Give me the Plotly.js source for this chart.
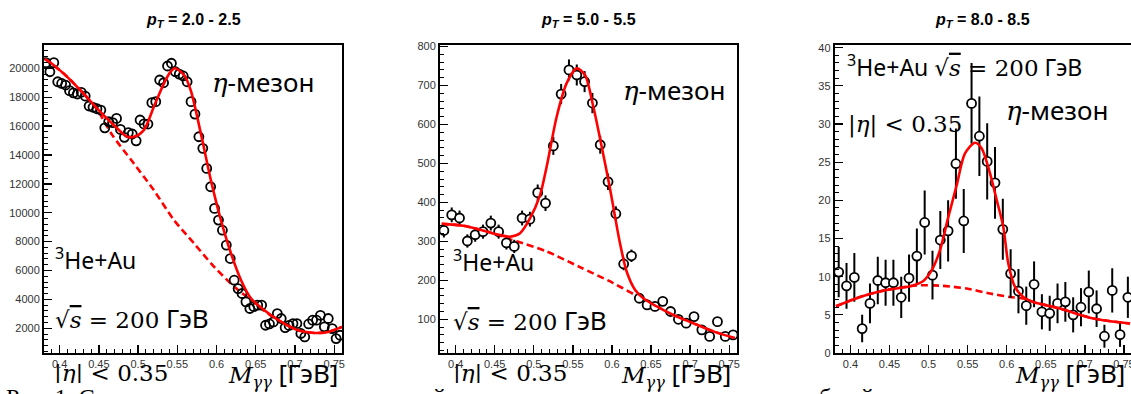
<!DOCTYPE html>
<html>
<head>
<meta charset="utf-8">
<script src="https://cdn.plot.ly/plotly-3.0.1.min.js"></script>
<style>
  html, body { margin: 0; padding: 0; background: #fff; }
  #chart { width: 1131px; height: 394px; }
</style>
</head>
<body>
<div id="chart"></div>
<script>
// Two-photon invariant mass spectra around the eta peak, 3He+Au at 200 GeV

// pT = 2.0-2.5 GeV/c : 5 MeV bins
const massFine = [
  0.3825,0.3875,0.3925,0.3975,0.4025,0.4075,0.4125,0.4175,0.4225,0.4275,
  0.4325,0.4375,0.4425,0.4475,0.4525,0.4575,0.4625,0.4675,0.4725,0.4775,
  0.4825,0.4875,0.4925,0.4975,0.5025,0.5075,0.5125,0.5175,0.5225,0.5275,
  0.5325,0.5375,0.5425,0.5475,0.5525,0.5575,0.5625,0.5675,0.5725,0.5775,
  0.5825,0.5875,0.5925,0.5975,0.6025,0.6075,0.6125,0.6175,0.6225,0.6275,
  0.6325,0.6375,0.6425,0.6475,0.6525,0.6575,0.6625,0.6675,0.6725,0.6775,
  0.6825,0.6875,0.6925,0.6975,0.7025,0.7075,0.7125,0.7175,0.7225,0.7275,
  0.7325,0.7375,0.7425,0.7475,0.7525,0.7575
];
const countsPt2 = [
  20390,19760,20390,19070,18950,18840,18450,18300,18220,18340,
  18080,17390,17300,17200,17110,15880,16300,16240,16530,15770,
  15220,15540,15450,14980,16420,16150,16140,17620,17690,19190,
  19000,20160,20350,19760,19600,19470,19070,17690,16830,15260,
  14460,13070,11800,10300,9490,8790,7760,6830,5330,4750,
  4410,3830,3370,3500,3600,3600,2210,2300,2440,3020,
  2680,2050,2200,2330,2330,1640,1400,2300,2560,2560,
  2900,2100,2680,1980,1290,1520
];

// pT = 5.0-5.5 and 8.0-8.5 GeV/c : 10 MeV bins
const massCoarse = [
  0.385,0.395,0.405,0.415,0.425,0.435,0.445,0.455,0.465,0.475,
  0.485,0.495,0.505,0.515,0.525,0.535,0.545,0.555,0.565,0.575,
  0.585,0.595,0.605,0.615,0.625,0.635,0.645,0.655,0.665,0.675,
  0.685,0.695,0.705,0.715,0.725,0.735,0.745,0.755
];
const countsPt5 = [
  328,368,360,301,317,325,347,325,296,287,
  360,357,425,398,545,678,740,727,710,655,
  548,453,371,242,263,154,137,133,146,120,
  100,90,107,73,56,94,56,60
];
const errorsPt5 = [
  18,19,19,17,18,18,19,18,17,17,
  19,19,21,20,23,26,27,27,27,26,
  23,21,19,16,16,12,12,12,12,11,
  10,10,10,9,8,10,8,8
];
const countsPt8 = [
  10.6,8.8,9.9,3.2,6.5,9.5,9.2,9.2,7.3,9.8,
  12.7,17.1,10.2,14.8,16.0,24.8,17.3,32.7,28.4,25.1,
  22.3,16.2,10.4,8.1,6.2,9.0,5.4,5.2,6.5,6.7,
  5.0,6.0,8.0,5.8,2.2,8.2,2.4,7.3
];
const errorsPt8 = [
  3.3,3.0,3.2,1.8,2.6,3.1,3.0,3.0,2.7,3.1,
  3.6,4.2,3.2,3.8,4.0,4.6,4.2,5.3,5.2,5.0,
  4.7,4.0,3.2,2.9,2.5,3.0,2.3,2.3,2.6,2.6,
  2.3,2.5,2.8,2.4,1.5,2.9,1.6,2.7
];

// Fitted curves: signal + background (solid) and background alone (dashed)
const fitMassPt2 = [0.381,0.3835,0.4048,0.4262,0.4476,0.4689,0.486,0.4945,0.5073,0.5201,0.533,0.5415,0.547,0.5586,0.567,0.58,0.5928,0.6056,0.6185,0.6313,0.6441,0.661,0.6826,0.704,0.7253,0.7424,0.76];
const fitTotalPt2 = [20650,20575,19650,18496,17228,16070,15260,15260,15724,17340,18960,19764,20000,19536,18496,15496,12260,9487,7180,5330,4061,3250,2440,1864,1678,1747,2100];
const bkgMassPt2 = [0.381,0.4048,0.4262,0.4476,0.4668,0.4945,0.52,0.5458,0.5714,0.597,0.6227,0.6441,0.661,0.6826,0.704,0.7253,0.7424,0.76];
const bkgPt2 = [20650,19650,18496,17150,15400,13417,11566,9487,7873,6256,4870,3950,3200,2440,1864,1678,1747,2100];

const fitMassPt5 = [0.3822,0.4098,0.4312,0.4525,0.4696,0.4824,0.4951,0.5079,0.5165,0.5293,0.5421,0.5549,0.5655,0.5761,0.5869,0.5975,0.6039,0.6103,0.6189,0.6295,0.6401,0.6573,0.6785,0.7041,0.7297,0.7574];
const fitTotalPt5 = [345,340,330,318,312,321,359,418,492,620,706,744,727,646,543,436,364,295,222,176,154,133,111,90,69,52];
const bkgMassPt5 = [0.3822,0.4098,0.4312,0.4525,0.47,0.48,0.5165,0.559,0.6017,0.6273,0.6401,0.6573,0.6785,0.7041,0.7297,0.7574];
const bkgPt5 = [345,340,330,318,305,299,274,234,193,165,154,133,111,90,69,52];

const fitMassPt8 = [0.3815,0.4123,0.4442,0.4762,0.4933,0.504,0.5146,0.5253,0.536,0.5466,0.5594,0.568,0.5786,0.5872,0.5956,0.602,0.6106,0.6212,0.634,0.6682,0.7108,0.7578];
const fitTotalPt8 = [6.12,7.34,8.22,8.75,9.44,10.85,13.47,17.84,22.0,26.15,27.54,26.8,23.53,20.03,16.52,11.72,8.66,7.34,6.69,5.82,4.51,3.86];
const bkgMassPt8 = [0.3815,0.4123,0.4442,0.4762,0.4912,0.5189,0.5488,0.5786,0.6042,0.6212,0.634,0.6682,0.7108,0.7578];
const bkgPt8 = [6.12,7.34,8.22,8.75,8.88,8.79,8.45,7.79,7.34,7.13,6.69,5.82,4.51,3.86];

const panelTitles = ['2.0 - 2.5', '5.0 - 5.5', '8.0 - 8.5'];

// ---- page geometry (pixels) ----
const W = 1131, H = 394;
const px = v => v / W;
const py = v => 1 - v / H;
const frameTop = 45, frameBottom = 353;
const frames = [[44, 342], [440, 737], [834.8, 1131]];

const red = '#ff0000';
const fitLine = { color: red, width: 2.6, shape: 'spline', smoothing: 0.8 };
const bkgLine = { color: red, width: 2.6, dash: '7px,4px', shape: 'spline', smoothing: 0.8 };

const traces = [];
function addPanel(idx, xs, ys, errs, fx, fy, bx, by, openMarker) {
  const ax = idx === 0 ? '' : String(idx + 1);
  traces.push({ x: bx, y: by, xaxis: 'x' + ax, yaxis: 'y' + ax, mode: 'lines', line: bkgLine, hoverinfo: 'skip' });
  const pts = {
    x: xs, y: ys, xaxis: 'x' + ax, yaxis: 'y' + ax, mode: 'markers',
    marker: { symbol: openMarker ? 'circle-open' : 'circle', size: 9,
              color: openMarker ? 'black' : 'white',
              line: { color: 'black', width: 1.8 } }
  };
  if (errs) pts.error_y = { type: 'data', array: errs, visible: true, color: 'black', thickness: 2, width: 0 };
  traces.push(pts);
  traces.push({ x: fx, y: fy, xaxis: 'x' + ax, yaxis: 'y' + ax, mode: 'lines', line: fitLine, hoverinfo: 'skip' });
}
addPanel(0, massFine, countsPt2, null, fitMassPt2, fitTotalPt2, bkgMassPt2, bkgPt2, true);
addPanel(1, massCoarse, countsPt5, errorsPt5, fitMassPt5, fitTotalPt5, bkgMassPt5, bkgPt5, false);
addPanel(2, massCoarse, countsPt8, errorsPt8, fitMassPt8, fitTotalPt8, bkgMassPt8, bkgPt8, false);

const tickFont = { family: 'Liberation Sans, Arial, sans-serif', size: 11, color: '#333' };
function xAxis(i) {
  const f = frames[i];
  const hi = 0.38 + (f[1] - f[0]) / 781.5;
  return {
    domain: [px(f[0]), px(f[1])], range: [0.38, i === 2 ? hi : 0.76],
    anchor: i === 0 ? 'y' : 'y' + (i + 1),
    showline: true, mirror: true, linecolor: 'black', linewidth: 2,
    ticks: 'inside', ticklen: 8, tickwidth: 1.3, tickcolor: 'black',
    dtick: 0.05, tick0: 0.4, tickfont: tickFont, ticklabeloverflow: 'allow',
    minor: { ticks: 'inside', ticklen: 4, tickwidth: 1, tickcolor: 'black', dtick: 0.01 },
    showgrid: false, zeroline: false, fixedrange: true
  };
}
function yAxis(i, range, dtick, minorStep) {
  return {
    domain: [py(frameBottom), py(frameTop)], range: range,
    anchor: i === 0 ? 'x' : 'x' + (i + 1),
    showline: true, mirror: true, linecolor: 'black', linewidth: 2,
    ticks: 'inside', ticklen: 8, tickwidth: 1.3, tickcolor: 'black',
    dtick: dtick, tick0: 0, tickformat: 'd', tickfont: tickFont, ticklabeloverflow: 'allow',
    minor: { ticks: 'inside', ticklen: 4, tickwidth: 1, tickcolor: 'black', dtick: minorStep },
    showgrid: false, zeroline: false, fixedrange: true
  };
}

const sans = { family: 'Noto Sans, sans-serif', size: 26, color: 'black' };
const sansSmall = { family: 'Noto Sans, sans-serif', size: 23, color: 'black' };
const captionFont = { family: 'Liberation Serif, serif', size: 24, color: 'black' };
const mathFace = 'DejaVu Serif';
const math = s => '<span style="font-family:' + mathFace + ';font-size:23px">' + s + '</span>';
const eta = '<span style="font-family:' + mathFace + '"><i>η</i></span>';
const sqrtS = math('√<span style="text-decoration:overline"><i>s</i></span> = 200');
function label(text, x, y, font) {
  return { text: text, xref: 'paper', yref: 'paper', x: px(x), y: py(y),
    xanchor: 'left', yanchor: 'middle', showarrow: false, font: font || sans };
}
function caption(text, x) {
  return { text: text, xref: 'paper', yref: 'paper', x: px(x), y: py(382),
    xanchor: 'left', yanchor: 'top', showarrow: false, font: captionFont };
}

const annotations = [];
panelTitles.forEach((t, i) => {
  const f = frames[i];
  annotations.push({
    text: '<b><i>p</i><sub><i>T</i></sub> = ' + t + '</b>',
    xref: 'paper', yref: 'paper', x: px((f[0] + Math.min(f[1], 1131.7)) / 2), y: py(21),
    xanchor: 'center', yanchor: 'middle', showarrow: false,
    font: { family: 'Liberation Sans, Arial, sans-serif', size: 16, color: 'black' }
  });
});
const axisTitle = math('<i>M</i><sub><i>γγ</i></sub>') + ' [ГэВ]';
// left panel
annotations.push(label(eta + '-мезон', 210, 82));
annotations.push(label('<sup>3</sup>He+Au', 53, 259, sansSmall));
annotations.push(label(sqrtS + ' ГэВ', 53, 318));
annotations.push(label(math('|<i>η</i>| &lt; 0.35'), 52, 373));
// middle panel
annotations.push(label(eta + '-мезон', 621, 90));
annotations.push(label('<sup>3</sup>He+Au', 451, 261, sansSmall));
annotations.push(label(sqrtS + ' ГэВ', 451, 320));
annotations.push(label(math('|<i>η</i>| &lt; 0.35'), 451, 373));
// right panel
annotations.push(label('<sup>3</sup>He+Au ' + sqrtS + ' ГэВ', 845, 66, sansSmall));
annotations.push(label(math('|<i>η</i>| &lt; 0.35'), 846, 124));
annotations.push(label(eta + '-мезон', 1004, 110));
// white strip of the caption line below the figure
annotations.push({
  text: ' ', xref: 'paper', yref: 'paper', x: 0, y: 0, xanchor: 'left', yanchor: 'bottom',
  width: 600, height: 11, bgcolor: 'white', borderpad: 0, borderwidth: 0, showarrow: false,
  font: { size: 4 }
});
// caption line, clipped by the bottom edge
annotations.push(caption('Рис. 1. С', 4));
annotations.push(caption('й', 431));
annotations.push(caption('б', 817));
annotations.push(caption('й', 859));
// axis titles
annotations.push(label(axisTitle, 226, 373));
annotations.push(label(axisTitle, 619, 373));
annotations.push(label(axisTitle, 1013, 373));

const layout = {
  width: W, height: H,
  margin: { l: 0, r: 0, t: 0, b: 0 },
  paper_bgcolor: 'white', plot_bgcolor: 'white',
  showlegend: false,
  xaxis: xAxis(0), xaxis2: xAxis(1), xaxis3: xAxis(2),
  yaxis: yAxis(0, [290, 21613], 2000, 400),
  yaxis2: yAxis(1, [13.5, 804], 100, 20),
  yaxis3: yAxis(2, [0, 40.35], 5, 1),
  annotations: annotations
};

Plotly.newPlot('chart', traces, layout, { staticPlot: true, displayModeBar: false });
</script>
</body>
</html>
